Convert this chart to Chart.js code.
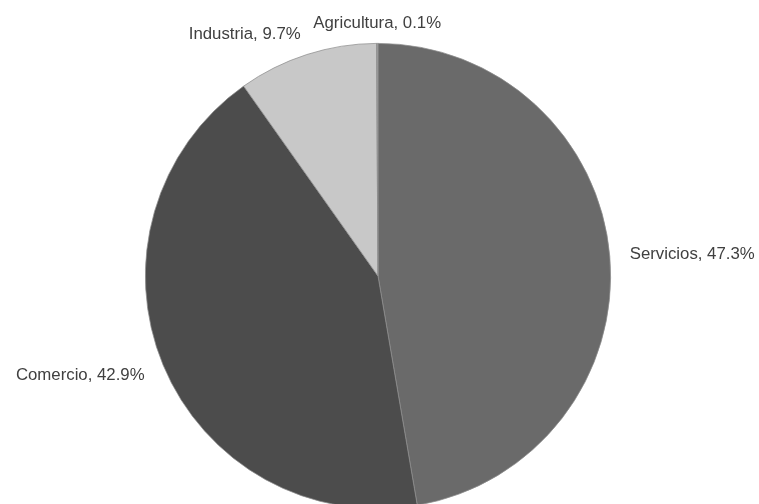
<!DOCTYPE html>
<html>
<head>
<meta charset="utf-8">
<script src="https://cdn.jsdelivr.net/npm/chart.js@4"></script>
<style>
  html, body { margin: 0; padding: 0; background: #fff; overflow: hidden; }
  #wrap { width: 759px; height: 520px; position: relative; }
</style>
</head>
<body>
<div id="wrap"><canvas id="chart"></canvas></div>
<script>
/* ================================
   DATA
================================ */

const sectors = ["Servicios", "Comercio", "Industria", "Agricultura"];
const shares = [47.3, 42.9, 9.7, 0.1];
const sliceColors = ["#6a6a6a", "#4c4c4c", "#c8c8c8", "#a0a0a0"];

/* ================================
   OUTSIDE LABELS
================================ */

const outsideLabels = {
  id: "outsideLabels",
  afterDatasetsDraw(chart) {
    const ctx = chart.ctx;
    const arcs = chart.getDatasetMeta(0).data;
    ctx.save();
    ctx.font = "16.8px 'Liberation Sans', Arial, sans-serif";
    ctx.fillStyle = "#404040";

    arcs.forEach((arc, i) => {
      const p = arc.getProps(["x", "y", "startAngle", "endAngle", "outerRadius"], true);
      const mid = (p.startAngle + p.endAngle) / 2;
      const cx = Math.cos(mid), cy = Math.sin(mid);
      const x = p.x + cx * (p.outerRadius + 20);
      // side labels sit a bit further out vertically
      const ry = Math.abs(cy) > 0.5 ? 12 : 28;
      const y = p.y + cy * (p.outerRadius + ry);

      ctx.textAlign = cx > 0.2 ? "left" : (cx < -0.2 ? "right" : "center");
      ctx.textBaseline = cy < -0.5 ? "bottom" : (cy > 0.5 ? "top" : "middle");
      ctx.fillText(sectors[i] + ", " + shares[i].toFixed(1) + "%", x, y);
    });
    ctx.restore();
  }
};

/* ================================
   CHART
================================ */

new Chart(document.getElementById("chart"), {
  type: "pie",
  data: {
    labels: sectors,
    datasets: [{
      data: shares,
      backgroundColor: sliceColors,
      borderColor: "#8e8e8e",
      borderWidth: 0.75
    }]
  },
  options: {
    responsive: true,
    maintainAspectRatio: false,
    animation: false,
    layout: { padding: { left: 145, right: 148, top: 43, bottom: 11 } },
    plugins: {
      legend: { display: false },
      tooltip: { enabled: false }
    }
  },
  plugins: [outsideLabels]
});
</script>
</body>
</html>
